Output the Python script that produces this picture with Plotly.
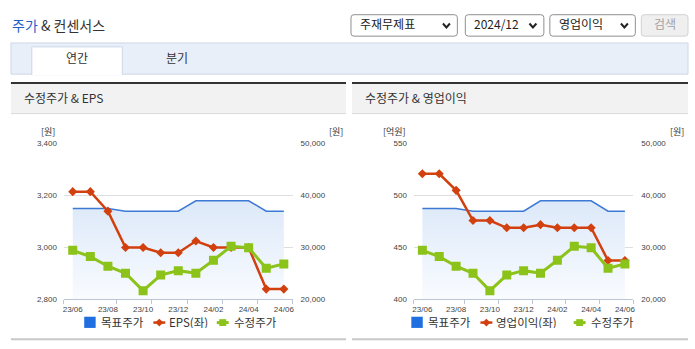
import plotly.graph_objects as go

# Monthly series (23/06 .. 24/06)
months = ["23/06", "23/07", "23/08", "23/09", "23/10", "23/11", "23/12",
          "24/01", "24/02", "24/03", "24/04", "24/05", "24/06"]
target_price = [37500, 37500, 37500, 37000, 37000, 37000, 37000,
                39000, 39000, 39000, 39000, 37000, 37000]
adj_price = [29450, 28250, 26400, 25050, 21700, 24700, 25550,
             25050, 27550, 30250, 29950, 26000, 26850]
eps = [3215, 3215, 3140, 3000, 3000, 2980, 2980,
       3025, 3000, 3000, 3000, 2840, 2840]
op_income = [521, 521, 505, 476, 476, 469, 469,
             472, 469, 469, 469, 437.5, 437.5]

eps_ticks = [2800, 3000, 3200, 3400]
op_ticks = [400, 450, 500, 550]
price_ticks = [20000, 30000, 40000, 50000]
shown_months = months[::2]

W, H = 695, 349
KR = "Noto Sans CJK KR"
NUM = "Liberation Sans"

BLUE_LINE = "#3d7ad6"
BLUE_KEY = "#1f6fe0"
RED = "#d2400f"
GREEN = "#8cc31a"


def px(x):
    return x / W


def py(y):
    return 1 - y / H


x_idx = list(range(len(months)))
label_pos = x_idx[::2]
boundary_ticks = [-0.5] + [i + 0.5 for i in label_pos[1:]]

fig = go.Figure()


def add_chart(xa, y_price, y_left, y_top, left_vals, left_name):
    # y_price: base price axis (area), y_left: left-scale series,
    # y_top: price axis drawn last so the adjusted price sits on top
    fig.add_trace(go.Scatter(
        x=x_idx, y=target_price, xaxis=xa, yaxis=y_price, mode="lines",
        line=dict(color=BLUE_LINE, width=1.5), fill="tozeroy",
        fillgradient=dict(type="vertical",
                          colorscale=[[0, "#fafcff"], [1, "#dde9f9"]],
                          start=20000, stop=39000),
        showlegend=False, hoverinfo="skip", name="목표주가"))
    fig.add_trace(go.Scatter(
        x=x_idx, y=left_vals, xaxis=xa, yaxis=y_left, mode="lines+markers",
        line=dict(color=RED, width=2.5),
        marker=dict(symbol="diamond", size=7, color=RED),
        name=left_name, showlegend=False))
    fig.add_trace(go.Scatter(
        x=x_idx, y=adj_price, xaxis=xa, yaxis=y_top, mode="lines+markers",
        line=dict(color=GREEN, width=3),
        marker=dict(symbol="square", size=9, color=GREEN),
        name="수정주가", showlegend=False))


add_chart("x", "y", "y2", "y3", eps, "EPS(좌)")
add_chart("x2", "y4", "y5", "y6", op_income, "영업이익(좌)")

ydom = [py(303.3), py(143.3)]
tickfont = dict(family=NUM, size=8, color="#444")


def xaxis_cfg(d0, d1, anchor):
    return dict(domain=[px(d0), px(d1)], anchor=anchor, range=[-0.5, 12.5],
                tickmode="array", tickvals=label_pos, ticktext=shown_months,
                ticks="", showgrid=False, zeroline=False,
                showline=True, linecolor="#bcc6d6", linewidth=1,
                tickfont=tickfont, ticklabelstandoff=2, fixedrange=True,
                minor=dict(tickmode="array", tickvals=boundary_ticks,
                           ticks="outside", ticklen=4, tickcolor="#bcc6d6",
                           showgrid=False))


def price_axis(anchor):
    return dict(domain=ydom, anchor=anchor, side="right",
                range=[20000, 50000], tickmode="array", tickvals=price_ticks,
                tickformat=",d", showgrid=True, gridcolor="#dedede",
                gridwidth=1, zeroline=False, showline=False, ticks="",
                tickfont=tickfont, ticklabelstandoff=7, fixedrange=True)


def left_axis(rng, ticks, overlay, anchor):
    return dict(overlaying=overlay, anchor=anchor, side="left", range=rng,
                tickmode="array", tickvals=ticks, tickformat=",d",
                showgrid=False, zeroline=False, showline=False, ticks="",
                tickfont=tickfont, ticklabelstandoff=6, fixedrange=True)


def top_price_axis(overlay, anchor):
    return dict(overlaying=overlay, anchor=anchor, side="right",
                range=[20000, 50000], visible=False, showgrid=False,
                zeroline=False, fixedrange=True)


fig.update_layout(
    width=W, height=H, margin=dict(l=0, r=0, t=0, b=0),
    paper_bgcolor="white", plot_bgcolor="rgba(0,0,0,0)",
    showlegend=False,
    xaxis=xaxis_cfg(62.3, 292.3, "y"),
    yaxis=price_axis("x"),
    yaxis2=left_axis([2800, 3400], eps_ticks, "y", "x"),
    yaxis3=top_price_axis("y", "x"),
    xaxis2=xaxis_cfg(414.3, 635, "y4"),
    yaxis4=price_axis("x2"),
    yaxis5=left_axis([400, 550], op_ticks, "y4", "x2"),
    yaxis6=top_price_axis("y4", "x2"),
)

shapes = []
annotations = []


def rect(x0, y0, x1, y1, fill, line=None, lw=1, layer="below"):
    shapes.append(dict(type="rect", xref="paper", yref="paper",
                       x0=px(x0), x1=px(x1), y0=py(y1), y1=py(y0),
                       fillcolor=fill, layer=layer,
                       line=dict(color=line or fill, width=lw if line else 0)))


def hline(x0, x1, y, color, width=1, layer="below"):
    shapes.append(dict(type="line", xref="paper", yref="paper",
                       x0=px(x0), x1=px(x1), y0=py(y), y1=py(y),
                       line=dict(color=color, width=width), layer=layer))


def rounded_box(x0, y0, x1, y1, r, fill, line):
    p = (f"M{px(x0 + r)},{py(y0)} L{px(x1 - r)},{py(y0)} "
         f"Q{px(x1)},{py(y0)} {px(x1)},{py(y0 + r)} "
         f"L{px(x1)},{py(y1 - r)} Q{px(x1)},{py(y1)} {px(x1 - r)},{py(y1)} "
         f"L{px(x0 + r)},{py(y1)} Q{px(x0)},{py(y1)} {px(x0)},{py(y1 - r)} "
         f"L{px(x0)},{py(y0 + r)} Q{px(x0)},{py(y0)} {px(x0 + r)},{py(y0)} Z")
    shapes.append(dict(type="path", xref="paper", yref="paper", path=p,
                       fillcolor=fill, line=dict(color=line, width=1),
                       layer="below"))


def chevron(cx, cy):
    p = (f"M{px(cx - 3.5)},{py(cy - 2)} L{px(cx)},{py(cy + 2)} "
         f"L{px(cx + 3.5)},{py(cy - 2)}")
    shapes.append(dict(type="path", xref="paper", yref="paper", path=p,
                       line=dict(color="#222", width=2), layer="above"))


def text(x, y, s, size=12, color="#333", family=KR, xanchor="left",
         box_h=None):
    # CJK glyph boxes sit a little low; lift them to the visual centre
    dy = -2 if family == KR else 0
    ann = dict(x=px(x), y=py(y + dy), xref="paper", yref="paper",
               text=s, showarrow=False, xanchor=xanchor, yanchor="middle",
               font=dict(family=family, size=size, color=color))
    if box_h:
        ann.update(height=box_h, valign="middle", borderpad=0)
    annotations.append(ann)


def diamond(cx, cy, r, color):
    p = (f"M{px(cx - r)},{py(cy)} L{px(cx)},{py(cy - r)} "
         f"L{px(cx + r)},{py(cy)} L{px(cx)},{py(cy + r)} Z")
    shapes.append(dict(type="path", xref="paper", yref="paper", path=p,
                       fillcolor=color, line=dict(color=color, width=0),
                       layer="above"))


LEG_Y = 327


def legend_row(x0, right_name, gx):
    cy = LEG_Y
    rect(x0, cy - 6, x0 + 11.5, cy + 5.5, BLUE_KEY, layer="above")
    text(x0 + 15.5, cy + 1, "목표주가", size=11.5, box_h=13)
    rx = x0 + 69.5
    hline(rx, rx + 12, cy, RED, 2.5, layer="above")
    diamond(rx + 6, cy, 4, RED)
    text(rx + 15, cy + 1, right_name, size=11.5, box_h=13)
    hline(gx, gx + 12, cy, GREEN, 3, layer="above")
    rect(gx + 2.5, cy - 3.5, gx + 9.5, cy + 3.5, GREEN, layer="above")
    text(gx + 16, cy + 1, "수정주가", size=11.5, box_h=13)


# page title
text(8, 24, "<span style='color:#1f5fcc'>주가</span> & 컨센서스", size=14,
     color="#333")

# selectors
for (x0, x1, label) in [(351, 458, "주재무제표"), (466, 545, "2024/12"),
                        (551, 637, "영업이익")]:
    rounded_box(x0, 11, x1, 33, 3, "white", "#8f8f8f")
    text(x0 + 7, 22, label, size=12, color="#222")
    chevron(x1 - 11, 22)
rounded_box(643, 11, 690, 33, 3, "#efefef", "#d2d2d2")
text(666.5, 22, "검색", size=12, color="#a3a3a3", xanchor="center")

# tab bar
rect(9, 40, 690, 72, "#e9eff9", "#cdd7e8")
rect(30, 44, 121, 72.5, "white", "#cdd7e8")
hline(30.5, 120.5, 72, "white", 1.5)
text(75.5, 57, "연간", size=12, color="#333", xanchor="center")
text(176, 57, "분기", size=12, color="#333", xanchor="center")

# chart panels
for (x0, x1, title, tx) in [(9, 346, "수정주가 & EPS", 20),
                            (352, 690, "수정주가 & 영업이익", 363)]:
    rect(x0, 82, x1, 112, "#f2f2f2")
    hline(x0, x1, 81, "#333", 2)
    hline(x0, x1, 112.5, "#dadada", 1)
    hline(x0, x1, 344, "#c8c8c8", 2)
    text(tx, 97.5, title, size=12, color="#333")

# axis units
text(46.7, 132.5, "[원]", size=9, color="#333", xanchor="center")
text(335.5, 132.5, "[원]", size=9, color="#333", xanchor="center")
text(394.5, 132.5, "[억원]", size=9, color="#333", xanchor="center")
text(679, 132.5, "[원]", size=9, color="#333", xanchor="center")

# legends
legend_row(82.7, "EPS(좌)", 216)
legend_row(411.7, "영업이익(좌)", 575)

fig.update_layout(shapes=shapes, annotations=annotations)

fig.write_html("out.html")
